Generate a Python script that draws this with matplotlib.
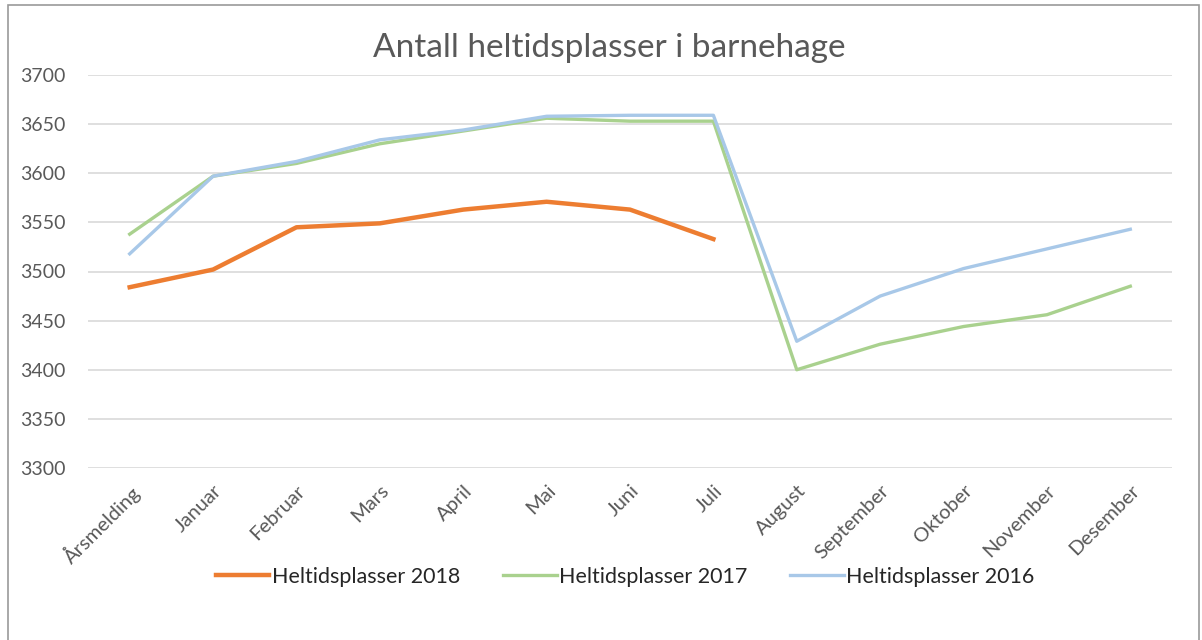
import matplotlib.pyplot as plt
from matplotlib.patches import Rectangle

months = ["Årsmelding", "Januar", "Februar", "Mars", "April", "Mai", "Juni",
          "Juli", "August", "September", "Oktober", "November", "Desember"]
plasser_2018 = [3484, 3502, 3545, 3549, 3563, 3571, 3563, 3533]
plasser_2017 = [3538, 3597, 3610, 3630, 3643, 3656, 3653, 3653,
                3400, 3426, 3444, 3456, 3485]
plasser_2016 = [3518, 3597, 3612, 3634, 3644, 3658, 3659, 3659,
                3429, 3475, 3503, 3523, 3543]
yticks = list(range(3300, 3701, 50))

plt.rcParams["font.family"] = ["Lato", "DejaVu Sans"]

fig = plt.figure(figsize=(12.02, 6.4), dpi=100)
fig.patches.append(Rectangle((8 / 1202, -0.01), 1191 / 1202, 1 - 5 / 640 + 0.01,
                             transform=fig.transFigure, fill=False,
                             edgecolor="#9a9a9a", linewidth=1.2))

ax = fig.add_axes([88 / 1202, 1 - 468 / 640, 1084 / 1202, 393 / 640])
x = list(range(len(months)))
ax.plot(x[:len(plasser_2018)], plasser_2018, color="#ED7D31", lw=3.2,
        label="Heltidsplasser 2018", solid_joinstyle="round")
ax.plot(x, plasser_2017, color="#A9D18E", lw=2.4,
        label="Heltidsplasser 2017", solid_joinstyle="round")
ax.plot(x, plasser_2016, color="#A8C8E8", lw=2.4,
        label="Heltidsplasser 2016", solid_joinstyle="round")

ax.set_xlim(-0.5, len(months) - 0.5)
ax.set_ylim(3300, 3700)
ax.set_yticks(yticks)
ax.set_yticklabels([str(v) for v in yticks], color="#595959", fontsize=14)
ax.set_xticks(x)
ax.set_xticklabels(months, rotation=45, ha="right", rotation_mode="anchor",
                   color="#595959", fontsize=14.5)
ax.tick_params(length=0, pad=10)
ax.tick_params(axis="y", pad=16)
ax.grid(axis="y", color="#d9d9d9", lw=1.2)
ax.set_axisbelow(True)
for s in ax.spines.values():
    s.set_visible(False)

fig.text(609 / 1202, 1 - 48 / 640, "Antall heltidsplasser i barnehage",
         ha="center", va="center", fontsize=24, color="#595959")

fig.legend(loc="center", bbox_to_anchor=(625 / 1202, 1 - 577 / 640), ncol=3,
           frameon=False, fontsize=15.5, handlelength=2.5, handletextpad=0.1,
           columnspacing=2.0, labelcolor="#262626")

fig.savefig("out.png", dpi=100)
